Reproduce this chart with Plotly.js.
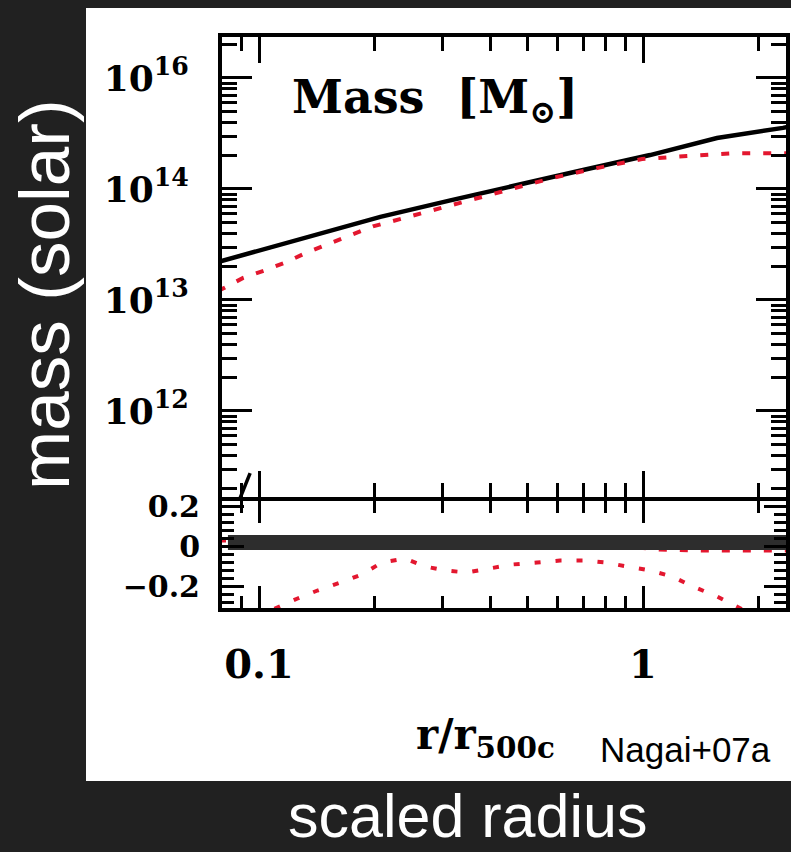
<!DOCTYPE html>
<html>
<head>
<meta charset="utf-8">
<script src="https://cdn.plot.ly/plotly-3.0.1.min.js"></script>
<style>
html,body{margin:0;padding:0;background:#212121;}
#chart{width:791px;height:852px;}
</style>
</head>
<body>
<div id="chart"></div>
<script>
// ---- data ----
// upper panel: enclosed mass profiles
const rMassBlack = [0.0782, 0.128, 0.207, 0.315, 0.470, 0.698, 1.043, 1.558, 2.315, 2.45];
const massBlack  = [2.2e13, 3.55e13, 5.6e13, 7.9e13, 1.09e14, 1.48e14, 2.02e14, 2.88e14, 3.55e14, 3.7e14];
const rMassRed   = [0.0782, 0.0909, 0.104, 0.118, 0.134, 0.153, 0.175, 0.198, 0.334, 0.443, 0.583, 0.764, 0.994, 1.302, 1.716, 2.273, 2.45];
const massRed    = [1.2e13, 1.58e13, 1.86e13, 2.2e13, 2.7e13, 3.25e13, 3.9e13, 4.6e13, 7.5e13, 9.8e13, 1.26e14, 1.55e14, 1.86e14, 1.98e14, 2.1e14, 2.1e14, 2.1e14];
// stray black segment near lower-left of upper panel
const rSeg = [0.0877, 0.0948];
const mSeg = [1.41e11, 2.75e11];
// lower panel: residuals
const rRes   = [0.0782, 0.0949, 0.110, 0.126, 0.142, 0.163, 0.185, 0.209, 0.240, 0.271, 0.305, 0.348, 0.400, 0.456, 0.530, 0.608, 0.698, 0.796, 0.909, 1.043, 1.190, 1.349, 1.558, 1.756, 2.015];
const resRed = [-0.45, -0.37, -0.31, -0.26, -0.22, -0.18, -0.14, -0.08, -0.06, -0.10, -0.12, -0.13, -0.11, -0.09, -0.08, -0.07, -0.07, -0.08, -0.10, -0.12, -0.15, -0.20, -0.25, -0.30, -0.36];
const rRes2   = [0.0782, 0.2, 0.5, 0.9, 1.1, 1.4, 1.8, 2.45];
const resRed2 = [0.03, 0.02, 0.01, 0.0, -0.015, -0.02, -0.02, -0.02];
const rBand   = [0.083, 3.0];
const resBand = [0.02, 0.02];
// ticks
const xTickVals = [0.1, 1];
const xTickText = ['0.1', '1'];
const xMinorVals = [0.08, 0.09, 0.2, 0.3, 0.4, 0.5, 0.6, 0.7, 0.8, 0.9, 2];
const yTickVals = [1e12, 1e13, 1e14, 1e15];
const yTickText = ['10<sup>12</sup>', '10<sup>13</sup>', '10<sup>14</sup>', '10<sup>16</sup>'];
const yMinorMant = [2, 3, 4, 5, 6, 7, 8, 9];
const yMinorExp = [11, 12, 13, 14, 15];
const y2TickVals = [-0.2, 0, 0.2];
const y2TickText = ['\u22120.2', '0', '0.2'];
const y2MinorVals = [-0.32, -0.28, -0.24, -0.16, -0.12, -0.08, -0.04, 0.04, 0.08, 0.12, 0.16, 0.24];

const yMinorVals = [];
yMinorExp.forEach(e => yMinorMant.forEach(m => yMinorVals.push(m * Math.pow(10, e))));

// ---- layout geometry (pixel edges of the plot areas) ----
const W = 791, H = 852;
const L = 222, R = 786, T = 37, B = 608;
const UPPER_BOTTOM = 497, LOWER_TOP = 501;
const px2x = p => (p - L) / (R - L);
const py2y = p => 1 - (p - T) / (B - T);

const RED = '#e3172f';
const serif = 'DejaVu Serif';

const traces = [
  {x: rMassBlack, y: massBlack, xaxis: 'x', yaxis: 'y', mode: 'lines',
   line: {color: '#000', width: 4.5}},
  {x: rMassRed, y: massRed, xaxis: 'x', yaxis: 'y', mode: 'lines',
   line: {color: RED, width: 4, dash: '8px,13px'}},
  {x: rSeg, y: mSeg, xaxis: 'x', yaxis: 'y', mode: 'lines',
   line: {color: '#000', width: 3.5}},
  {x: rRes2, y: resRed2, xaxis: 'x2', yaxis: 'y2', mode: 'lines',
   line: {color: RED, width: 4, dash: '8px,13px'}},
  {x: rBand, y: resBand, xaxis: 'x2', yaxis: 'y2', mode: 'lines',
   line: {color: '#2d2d2d', width: 15}},
  {x: rRes, y: resRed, xaxis: 'x2', yaxis: 'y2', mode: 'lines',
   line: {color: RED, width: 4, dash: '6px,15px'}}
];

const axBase = {
  showline: true, linewidth: 4, linecolor: '#000', mirror: 'ticks',
  ticks: 'inside', tickwidth: 3, tickcolor: '#000',
  showgrid: false, zeroline: false, fixedrange: true
};
const xRange = [-1.0964, 0.3724];

const layout = {
  width: W, height: H,
  paper_bgcolor: '#212121', plot_bgcolor: '#ffffff',
  margin: {l: L, r: W - R, t: T, b: H - B, pad: 0},
  showlegend: false,
  xaxis: Object.assign({}, axBase, {
    type: 'log', range: xRange, domain: [0, 1], anchor: 'y',
    tickmode: 'array', tickvals: xTickVals, ticktext: xTickText, ticklen: 26,
    showticklabels: false,
    minor: {tickmode: 'array', tickvals: xMinorVals, ticks: 'inside', ticklen: 14, tickwidth: 3, tickcolor: '#000', showgrid: false}
  }),
  xaxis2: Object.assign({}, axBase, {
    type: 'log', range: xRange, domain: [0, 1], anchor: 'y2', matches: 'x',
    tickmode: 'array', tickvals: xTickVals, ticktext: xTickText, ticklen: 22,
    showticklabels: true, ticklabelstandoff: 18,
    tickfont: {family: serif, size: 40, color: '#000', weight: 'bold'},
    minor: {tickmode: 'array', tickvals: xMinorVals, ticks: 'inside', ticklen: 12, tickwidth: 3, tickcolor: '#000', showgrid: false}
  }),
  yaxis: Object.assign({}, axBase, {
    type: 'log', range: [11.225, 15.369], domain: [py2y(UPPER_BOTTOM), 1], anchor: 'x',
    tickmode: 'array', tickvals: yTickVals, ticktext: yTickText, ticklen: 30,
    ticklabelstandoff: 22,
    tickfont: {family: serif, size: 36, color: '#000', weight: 'bold'},
    minor: {tickmode: 'array', tickvals: yMinorVals, ticks: 'inside', ticklen: 15, tickwidth: 3, tickcolor: '#000', showgrid: false}
  }),
  yaxis2: Object.assign({}, axBase, {
    type: 'linear', range: [-0.3075, 0.2275], domain: [0, py2y(LOWER_TOP)], anchor: 'x2',
    tickmode: 'array', tickvals: y2TickVals, ticktext: y2TickText, ticklen: 22,
    ticklabelstandoff: 12,
    tickfont: {family: serif, size: 30, color: '#000', weight: 'bold'},
    minor: {tickmode: 'array', tickvals: y2MinorVals, ticks: 'inside', ticklen: 12, tickwidth: 3, tickcolor: '#000', showgrid: false}
  }),
  shapes: [
    {type: 'rect', xref: 'paper', yref: 'paper', layer: 'below',
     x0: px2x(86), x1: px2x(800), y0: py2y(781), y1: py2y(8),
     fillcolor: '#ffffff', line: {width: 0}}
  ],
  annotations: [
    {xref: 'paper', yref: 'paper', x: px2x(290), y: py2y(100), xanchor: 'left', yanchor: 'middle',
     text: 'Mass\u00a0\u00a0[M<sub>\u2299</sub>]', showarrow: false,
     font: {family: serif, size: 46, color: '#000', weight: 'bold'}},
    {xref: 'paper', yref: 'paper', x: px2x(414), y: py2y(737), xanchor: 'left', yanchor: 'middle',
     text: 'r/r<sub>500c</sub>', showarrow: false,
     font: {family: serif, size: 42, color: '#000', weight: 'bold'}},
    {xref: 'paper', yref: 'paper', x: px2x(598), y: py2y(749), xanchor: 'left', yanchor: 'middle',
     text: 'Nagai+07a', showarrow: false,
     font: {family: 'Liberation Sans', size: 35, color: '#000'}},
    {xref: 'paper', yref: 'paper', x: px2x(467), y: py2y(816), xanchor: 'center', yanchor: 'middle',
     text: 'scaled radius', showarrow: false,
     font: {family: 'Liberation Sans', size: 61, color: '#ffffff'}},
    {xref: 'paper', yref: 'paper', x: px2x(44), y: py2y(295), xanchor: 'center', yanchor: 'middle',
     text: 'mass (solar)', showarrow: false, textangle: -90,
     font: {family: 'Liberation Sans', size: 71, color: '#ffffff'}}
  ]
};

Plotly.newPlot('chart', traces, layout, {staticPlot: true, displayModeBar: false});
</script>
</body>
</html>
